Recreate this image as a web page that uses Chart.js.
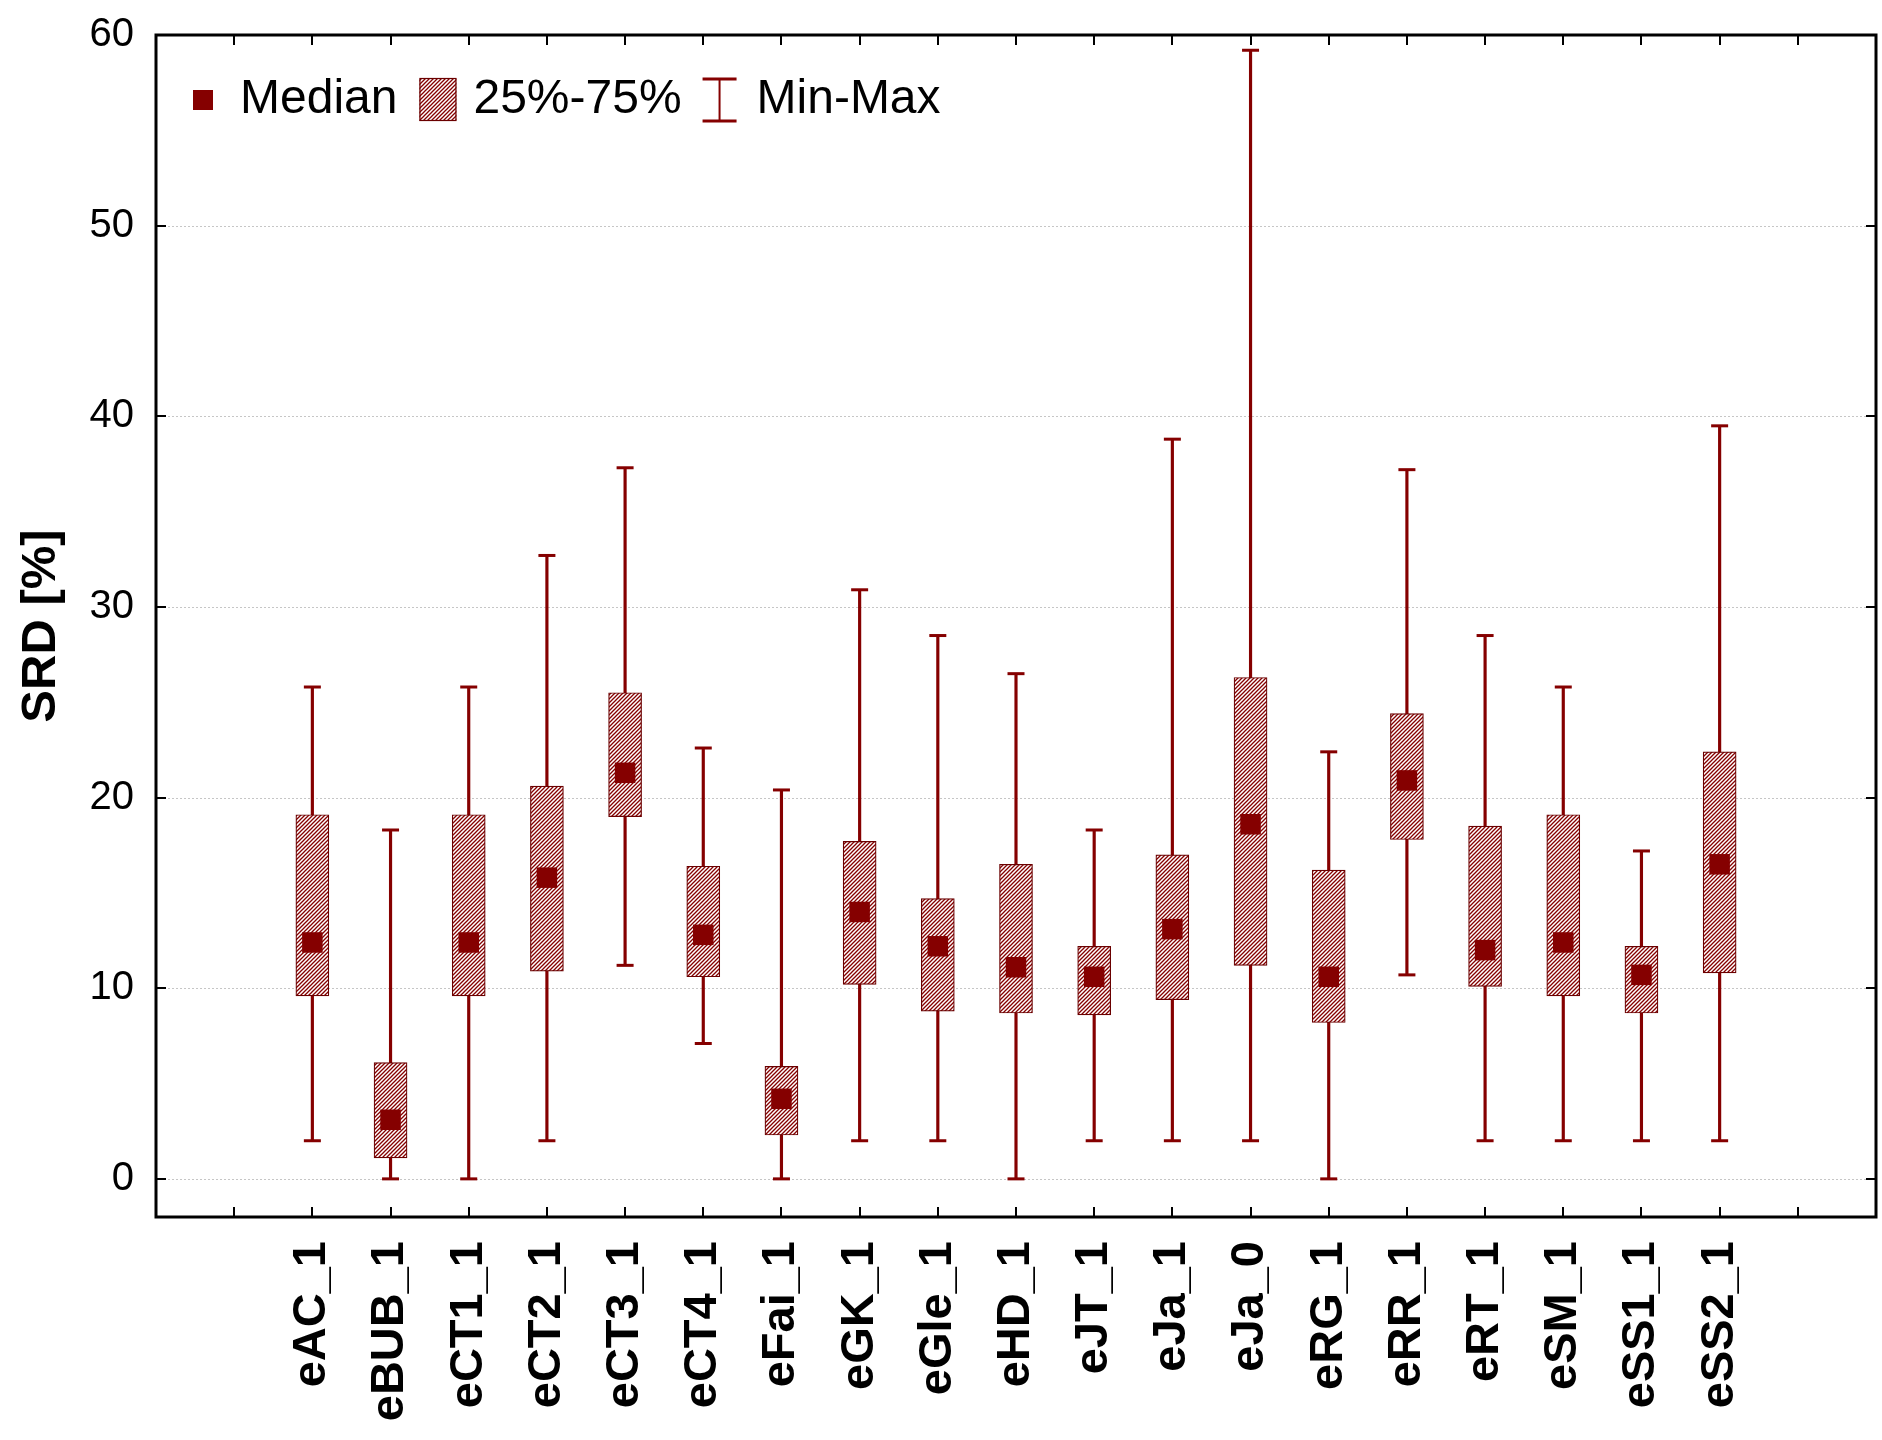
<!DOCTYPE html>
<html>
<head>
<meta charset="utf-8">
<title>SRD [%]</title>
<script src="https://cdn.jsdelivr.net/npm/chart.js@4/dist/chart.umd.min.js"></script>
<style>
  html, body { margin: 0; padding: 0; background: #ffffff; }
  #wrap { width: 1882px; height: 1440px; }
</style>
</head>
<body>
<div id="wrap"><canvas id="chart" width="1882" height="1440"></canvas></div>
<script>
// Samples on the category axis
const categories = ['eAC_1','eBUB_1','eCT1_1','eCT2_1','eCT3_1','eCT4_1','eFai_1','eGK_1','eGle_1','eHD_1',
                    'eJT_1','eJa_1','eJa_0','eRG_1','eRR_1','eRT_1','eSM_1','eSS1_1','eSS2_1'];
// Box-plot statistics per sample (SRD in %)
const minValues    = [2.0, 0.0, 0.0, 2.0, 11.2, 7.1, 0.0, 2.0, 2.0, 0.0, 2.0, 2.0, 2.0, 0.0, 10.7, 2.0, 2.0, 2.0, 2.0];
const q1Values     = [9.6, 1.1, 9.6, 10.9, 19.0, 10.6, 2.3, 10.2, 8.8, 8.7, 8.6, 9.4, 11.2, 8.2, 17.8, 10.1, 9.6, 8.7, 10.8];
const medianValues = [12.4, 3.1, 12.4, 15.8, 21.3, 12.8, 4.2, 14.0, 12.2, 11.1, 10.6, 13.1, 18.6, 10.6, 20.9, 12.0, 12.4, 10.7, 16.5];
const q3Values     = [19.1, 6.1, 19.1, 20.6, 25.5, 16.4, 5.9, 17.7, 14.7, 16.5, 12.2, 17.0, 26.3, 16.2, 24.4, 18.5, 19.1, 12.2, 22.4];
const maxValues    = [25.8, 18.3, 25.8, 32.7, 37.3, 22.6, 20.4, 30.9, 28.5, 26.5, 18.3, 38.8, 59.2, 22.4, 37.2, 28.5, 25.8, 17.2, 39.5];
// Axis ticks
const yTicks = [0, 10, 20, 30, 40, 50, 60];
const legendLabels = ['Median', '25%-75%', 'Min-Max'];

// One empty slot on each side of the samples; samples sit on slots 2..20
const SLOT0 = 2;
const SLOT_COUNT = 22;
const xTickSlots = [];
for (let s = 1; s < SLOT_COUNT; s++) xTickSlots.push(s);

const RED = '#850000';
const FONT = '"Liberation Sans", Arial, sans-serif';

const canvas = document.getElementById('chart');
const ctx = canvas.getContext('2d');

// Diagonal hatch used for the interquartile boxes
function makeHatch(c) {
  const s = 4;
  const tile = document.createElement('canvas');
  tile.width = s; tile.height = s;
  const g = tile.getContext('2d');
  g.fillStyle = '#ffffff';
  g.fillRect(0, 0, s, s);
  g.strokeStyle = RED;
  g.lineWidth = 1.3;
  g.beginPath();
  g.moveTo(-1, s + 1); g.lineTo(s + 1, -1);
  g.moveTo(-1, 1); g.lineTo(1, -1);
  g.moveTo(s - 1, s + 1); g.lineTo(s + 1, s - 1);
  g.stroke();
  return c.createPattern(tile, 'repeat');
}
const hatch = makeHatch(ctx);

const atSlot = (i) => i + SLOT0;

// Dotted horizontal grid lines behind the marks
const gridPlugin = {
  id: 'dottedGrid',
  beforeDatasetsDraw(chart) {
    const { ctx, chartArea, scales } = chart;
    ctx.save();
    ctx.strokeStyle = '#c6c6c6';
    ctx.lineWidth = 1;
    ctx.setLineDash([2, 2]);
    yTicks.forEach(v => {
      if (v >= scales.y.max) return;
      const y = Math.round(scales.y.getPixelForValue(v)) + 0.5;
      ctx.beginPath();
      ctx.moveTo(chartArea.left, y);
      ctx.lineTo(chartArea.right, y);
      ctx.stroke();
    });
    ctx.restore();
  }
};

// Frame, inward tick marks on all four sides, and the legend inside the plot
const framePlugin = {
  id: 'frameAndLegend',
  afterDraw(chart) {
    const { ctx, chartArea: a, scales } = chart;
    const tl = 10;
    ctx.save();
    ctx.strokeStyle = '#000000';
    ctx.lineWidth = 2;
    ctx.beginPath();
    xTickSlots.forEach(s => {
      const x = Math.round(scales.x.getPixelForValue(s));
      ctx.moveTo(x, a.bottom); ctx.lineTo(x, a.bottom - tl);
      ctx.moveTo(x, a.top); ctx.lineTo(x, a.top + tl);
    });
    yTicks.forEach(v => {
      const y = Math.round(scales.y.getPixelForValue(v));
      ctx.moveTo(a.left, y); ctx.lineTo(a.left + tl, y);
      ctx.moveTo(a.right, y); ctx.lineTo(a.right - tl, y);
    });
    ctx.stroke();
    ctx.lineWidth = 3;
    ctx.strokeRect(a.left, a.top, a.right - a.left, a.bottom - a.top);

    // legend
    const cy = a.top + 65;
    ctx.font = '48px ' + FONT;
    ctx.textBaseline = 'middle';
    ctx.textAlign = 'left';
    let x = a.left + 37;
    ctx.fillStyle = RED;
    ctx.fillRect(x, cy - 10, 20, 20);
    x += 47;
    ctx.fillStyle = '#000000';
    ctx.fillText(legendLabels[0], x, cy);
    x += ctx.measureText(legendLabels[0]).width + 22;
    ctx.fillStyle = hatch;
    ctx.fillRect(x, cy - 22, 37, 43);
    ctx.strokeStyle = '#6a0000';
    ctx.lineWidth = 1.2;
    ctx.strokeRect(x + 0.5, cy - 21.5, 36, 42);
    x += 54;
    ctx.fillStyle = '#000000';
    ctx.fillText(legendLabels[1], x, cy);
    x += ctx.measureText(legendLabels[1]).width + 20;
    const ix = x + 18;
    ctx.strokeStyle = RED;
    ctx.lineWidth = 2;
    ctx.beginPath();
    ctx.moveTo(ix, cy - 21); ctx.lineTo(ix, cy + 21);
    ctx.stroke();
    ctx.lineWidth = 3;
    ctx.beginPath();
    ctx.moveTo(ix - 17, cy - 21); ctx.lineTo(ix + 17, cy - 21);
    ctx.moveTo(ix - 17, cy + 21); ctx.lineTo(ix + 17, cy + 21);
    ctx.stroke();
    x += 55;
    ctx.fillStyle = '#000000';
    ctx.fillText(legendLabels[2], x, cy);
    ctx.restore();
  }
};

new Chart(ctx, {
  type: 'bar',
  data: {
    datasets: [
      {
        type: 'bar',
        label: 'Min-Max',
        data: categories.map((c, i) => ({ x: atSlot(i), y: [minValues[i], maxValues[i]] })),
        backgroundColor: RED,
        borderWidth: 0,
        barThickness: 2.5,
        grouped: false,
        order: 5
      },
      {
        type: 'scatter',
        label: 'Max',
        data: categories.map((c, i) => ({ x: atSlot(i), y: maxValues[i] })),
        pointStyle: 'line',
        pointRadius: 8.5,
        borderColor: RED,
        borderWidth: 3,
        order: 4
      },
      {
        type: 'scatter',
        label: 'Min',
        data: categories.map((c, i) => ({ x: atSlot(i), y: minValues[i] })),
        pointStyle: 'line',
        pointRadius: 8.5,
        borderColor: RED,
        borderWidth: 3,
        order: 3
      },
      {
        type: 'bar',
        label: '25%-75%',
        data: categories.map((c, i) => ({ x: atSlot(i), y: [q1Values[i], q3Values[i]] })),
        backgroundColor: hatch,
        borderColor: '#6a0000',
        borderWidth: 1.2,
        borderSkipped: false,
        barThickness: 33,
        grouped: false,
        order: 2
      },
      {
        type: 'scatter',
        label: 'Median',
        data: categories.map((c, i) => ({ x: atSlot(i), y: medianValues[i] })),
        pointStyle: 'rect',
        pointRadius: 14.5,
        backgroundColor: RED,
        borderWidth: 0,
        order: 1
      }
    ]
  },
  options: {
    responsive: false,
    animation: false,
    devicePixelRatio: 1,
    events: [],
    layout: { autoPadding: false, padding: { top: 35, right: 6, bottom: 0, left: 0 } },
    plugins: { legend: { display: false }, tooltip: { enabled: false } },
    scales: {
      x: {
        type: 'linear',
        offset: false,
        min: 0,
        max: SLOT_COUNT,
        afterBuildTicks(scale) { scale.ticks = xTickSlots.map(v => ({ value: v })); },
        afterFit(scale) {
          scale.height = 223;
          scale.paddingLeft = 0;
          scale.paddingRight = 0;
        },
        grid: { display: false, drawTicks: false, offset: false },
        border: { display: false },
        ticks: {
          autoSkip: false,
          minRotation: 90,
          maxRotation: 90,
          padding: 24,
          color: '#000000',
          font: { family: FONT, size: 47, weight: 'bold' },
          callback: (v) => categories[v - SLOT0] ?? ''
        }
      },
      y: {
        type: 'linear',
        min: -2,
        max: 60,
        afterBuildTicks(scale) { scale.ticks = yTicks.map(v => ({ value: v })); },
        afterFit(scale) {
          scale.width = 156;
          scale.paddingTop = 0;
          scale.paddingBottom = 0;
        },
        grid: { display: false, drawTicks: false },
        border: { display: false },
        ticks: {
          padding: 22,
          color: '#000000',
          font: { family: FONT, size: 40 }
        },
        title: {
          display: true,
          text: 'SRD [%]',
          color: '#000000',
          font: { family: FONT, size: 49, weight: 'bold' },
          padding: { top: 12, bottom: 0 }
        }
      }
    }
  },
  plugins: [gridPlugin, framePlugin]
});
</script>
</body>
</html>
